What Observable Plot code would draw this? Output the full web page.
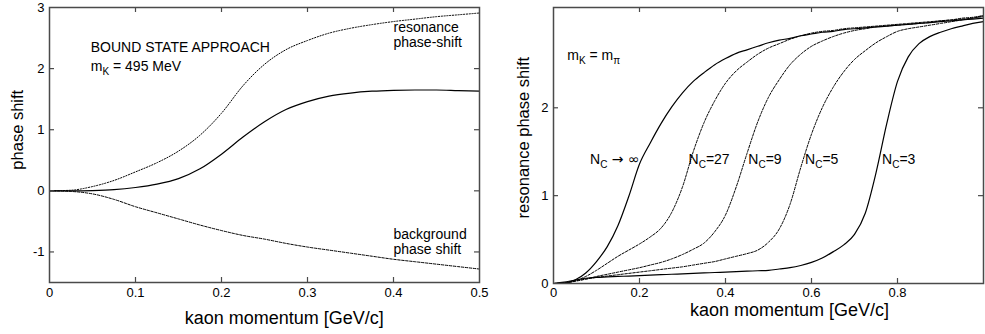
<!DOCTYPE html>
<html><head><meta charset="utf-8">
<script src="https://cdn.jsdelivr.net/npm/d3@7"></script>
<script src="https://cdn.jsdelivr.net/npm/@observablehq/plot@0.6"></script>
<style>
body{margin:0;background:#fff;}
#wrap{position:relative;width:985px;height:334px;font-family:"Liberation Sans",Arial,Helvetica,sans-serif;}
#left{position:absolute;left:0;top:0;}
#right{position:absolute;left:490px;top:0;}
</style></head><body><div id="wrap"><div id="left"></div><div id="right"></div></div>
<script>
// ---------- Left panel data ----------
const leftX = [0,0.025,0.05,0.075,0.1,0.125,0.15,0.175,0.2,0.225,0.25,0.275,0.3,0.325,0.35,0.375,0.4,0.425,0.45,0.475,0.5];
const resonancePhase = [0,0.01,0.07,0.17,0.31,0.46,0.65,0.91,1.27,1.72,2.07,2.31,2.46,2.58,2.66,2.72,2.77,2.81,2.85,2.88,2.91];
const totalPhase = [0,0,0.005,0.02,0.055,0.11,0.2,0.36,0.6,0.88,1.13,1.33,1.46,1.55,1.6,1.63,1.645,1.65,1.65,1.64,1.63];
const backgroundPhase = [0,-0.01,-0.05,-0.14,-0.26,-0.36,-0.46,-0.56,-0.65,-0.73,-0.79,-0.86,-0.92,-0.97,-1.02,-1.07,-1.12,-1.16,-1.2,-1.24,-1.28];
const leftXTicks = [0.1,0.2,0.3,0.4];
const leftXLabels = [0,0.1,0.2,0.3,0.4,0.5];
const leftYTicks = [-1,0,1,2];
const leftYLabels = [-1,0,1,2,3];
const leftNotes = [
  {x:0.048, y:2.34, text:"BOUND STATE APPROACH"},
  {x:0.048, y:2.03, text:"m_{K} = 495 MeV"},
  {x:0.4, y:2.68, text:"resonance"},
  {x:0.4, y:2.43, text:"phase-shift"},
  {x:0.4, y:-0.72, text:"background"},
  {x:0.4, y:-0.96, text:"phase shift"}
];
const leftAxisTitles = [
  {x:0.273, y:-2.08, text:"kaon momentum [GeV/c]", rotate:0},
  {x:-0.0364, y:1.0, text:"phase shift", rotate:-90}
];

// ---------- Right panel data ----------
const rightX = [0,0.025,0.05,0.075,0.1,0.125,0.15,0.175,0.2,0.225,0.25,0.275,0.3,0.325,0.35,0.375,0.4,0.425,0.45,0.475,0.5,0.525,0.55,0.575,0.6,0.625,0.65,0.675,0.7,0.725,0.75,0.775,0.8,0.825,0.85,0.875,0.9,0.925,0.95,0.975,1];
const ncInf = [0,0.005,0.04,0.12,0.25,0.42,0.66,0.99,1.36,1.6,1.82,2.01,2.17,2.3,2.4,2.49,2.56,2.62,2.66,2.7,2.74,2.77,2.79,2.82,2.84,2.86,2.87,2.89,2.9,2.91,2.92,2.93,2.94,2.95,2.96,2.97,2.98,2.99,3.0,3.01,3.02];
const nc27 = [0,0.005,0.03,0.08,0.15,0.23,0.31,0.38,0.45,0.53,0.63,0.81,1.1,1.5,1.83,2.08,2.28,2.42,2.52,2.61,2.68,2.73,2.78,2.82,2.85,2.87,2.88,2.9,2.91,2.92,2.93,2.94,2.95,2.96,2.97,2.98,2.99,3.0,3.01,3.02,3.04];
const nc9 = [0,0.005,0.025,0.05,0.08,0.105,0.13,0.155,0.18,0.21,0.24,0.28,0.33,0.39,0.46,0.59,0.78,1.1,1.48,1.84,2.12,2.32,2.49,2.61,2.7,2.76,2.81,2.85,2.88,2.9,2.92,2.93,2.94,2.95,2.96,2.97,2.99,3.0,3.02,3.03,3.05];
const nc5 = [0,0.01,0.03,0.05,0.07,0.085,0.1,0.115,0.13,0.145,0.16,0.175,0.19,0.21,0.23,0.25,0.28,0.31,0.34,0.38,0.47,0.62,0.9,1.32,1.7,2.0,2.23,2.41,2.55,2.65,2.74,2.81,2.87,2.9,2.92,2.94,2.96,2.98,3.0,3.02,3.05];
const nc3 = [0,0.015,0.04,0.06,0.07,0.075,0.08,0.085,0.09,0.095,0.1,0.105,0.11,0.115,0.12,0.125,0.13,0.135,0.14,0.145,0.15,0.165,0.18,0.205,0.24,0.29,0.36,0.44,0.56,0.8,1.26,1.82,2.3,2.58,2.73,2.81,2.86,2.9,2.93,2.96,2.98];
const rightXTicks = [0.2,0.4,0.6,0.8];
const rightXLabels = [0,0.2,0.4,0.6,0.8];
const rightYTicks = [1,2];
const rightYLabels = [0,1,2];
const rightNotes = [
  {x:0.032, y:2.6, text:"m_{K} = m_{π}"},
  {x:0.085, y:1.41, text:"N_{C} → ∞"},
  {x:0.314, y:1.41, text:"N_{C}=27"},
  {x:0.453, y:1.41, text:"N_{C}=9"},
  {x:0.585, y:1.41, text:"N_{C}=5"},
  {x:0.764, y:1.41, text:"N_{C}=3"}
];
const rightAxisTitles = [
  {x:0.549, y:-0.3, text:"kaon momentum [GeV/c]", rotate:0},
  {x:-0.07, y:1.66, text:"resonance phase shift", rotate:-90}
];

const FONT = '"Liberation Sans",Arial,Helvetica,sans-serif';
const FRAME = "#4a4a4a";

function subscriptify(svg){
  svg.querySelectorAll("text").forEach(t=>{
    const s = t.textContent;
    if(!s.includes("_{")) return;
    while(t.firstChild) t.removeChild(t.firstChild);
    const re = /_\{([^}]*)\}/g; let last = 0, m, shifted = false;
    const ns = "http://www.w3.org/2000/svg";
    const add = (txt, sub) => {
      const ts = document.createElementNS(ns, "tspan");
      ts.textContent = txt;
      if(sub){ ts.setAttribute("font-size","10"); ts.setAttribute("dy","4"); shifted = true; }
      else if(shifted){ ts.setAttribute("dy","-4"); shifted = false; }
      if(!sub && txt.includes("→")) ts.setAttribute("font-family","DejaVu Sans");
      t.appendChild(ts);
    };
    while((m = re.exec(s))){
      if(m.index > last) add(s.slice(last, m.index), false);
      add(m[1], true);
      last = re.lastIndex;
    }
    if(last < s.length) add(s.slice(last), false);
  });
}

function titleMarks(titles){
  return [
    Plot.text(titles.filter(d=>d.rotate===0),{x:"x",y:"y",text:"text",fontSize:18,fill:"black",clip:false}),
    Plot.text(titles.filter(d=>d.rotate!==0),{x:"x",y:"y",text:"text",rotate:-90,fontSize:16.5,fill:"black",clip:false})
  ];
}

// ---------- Left plot ----------
{
  const W=490,H=334,mt=7,mr=11,mb=52,ml=49;
  const iw=W-ml-mr, ih=H-mt-mb;
  const rows = leftX.map((x,i)=>({x, res:resonancePhase[i], tot:totalPhase[i], bg:backgroundPhase[i]}));
  const p = Plot.plot({
    width:W, height:H, marginTop:mt, marginRight:mr, marginBottom:mb, marginLeft:ml,
    x:{domain:[0,0.5]}, y:{domain:[-1.5,3]},
    style:{fontFamily:FONT, fontSize:"13px", background:"white", color:"black", overflow:"visible"},
    marks:[
      Plot.line(rows,{x:"x",y:"res",stroke:"black",strokeWidth:1,strokeDasharray:"1.2,1.6",curve:"monotone-x"}),
      Plot.line(rows,{x:"x",y:"bg",stroke:"black",strokeWidth:1,strokeDasharray:"2.5,1.5",curve:"monotone-x"}),
      Plot.line(rows,{x:"x",y:"tot",stroke:"black",strokeWidth:1.2,curve:"monotone-x"}),
      Plot.tickX(leftXTicks,{x:d=>d,insetTop:ih-5,stroke:FRAME,strokeWidth:1.2}),
      Plot.tickX(leftXTicks,{x:d=>d,insetBottom:ih-5,stroke:FRAME,strokeWidth:1.2}),
      Plot.tickY(leftYTicks,{y:d=>d,insetRight:iw-5,stroke:FRAME,strokeWidth:1.2}),
      Plot.tickY(leftYTicks,{y:d=>d,insetLeft:iw-5,stroke:FRAME,strokeWidth:1.2}),
      Plot.frame({stroke:FRAME,strokeWidth:1.5}),
      Plot.axisX({ticks:leftXLabels,tickSize:0,tickPadding:5,tickFormat:d=>String(d),label:null,fontSize:13}),
      Plot.axisY({ticks:leftYLabels,tickSize:0,tickPadding:5,tickFormat:d=>String(d),label:null,fontSize:13}),
      Plot.text(leftNotes,{x:"x",y:"y",text:"text",textAnchor:"start",fontSize:14,fill:"black"}),
      ...titleMarks(leftAxisTitles)
    ]
  });
  subscriptify(p);
  document.getElementById("left").appendChild(p);
}

// ---------- Right plot ----------
{
  const W=495,H=334,mt=7,mr=2,mb=51,ml=63;
  const iw=W-ml-mr, ih=H-mt-mb;
  const series = [
    {name:"inf", values:ncInf, dashed:false},
    {name:"27", values:nc27, dashed:true},
    {name:"9", values:nc9, dashed:true},
    {name:"5", values:nc5, dashed:true},
    {name:"3", values:nc3, dashed:false}
  ];
  const rows = series.flatMap(s=>rightX.map((x,i)=>({x, y:s.values[i], name:s.name, dashed:s.dashed})));
  const p = Plot.plot({
    width:W, height:H, marginTop:mt, marginRight:mr, marginBottom:mb, marginLeft:ml,
    x:{domain:[0,1]}, y:{domain:[0,Math.PI]},
    style:{fontFamily:FONT, fontSize:"13px", background:"white", color:"black", overflow:"visible"},
    marks:[
      Plot.line(rows.filter(d=>d.dashed),{x:"x",y:"y",z:"name",stroke:"black",strokeWidth:1,strokeDasharray:"2.5,1.5",curve:"monotone-x"}),
      Plot.line(rows.filter(d=>!d.dashed),{x:"x",y:"y",z:"name",stroke:"black",strokeWidth:1.2,curve:"monotone-x"}),
      Plot.tickX(rightXTicks,{x:d=>d,insetTop:ih-5,stroke:FRAME,strokeWidth:1.2}),
      Plot.tickX(rightXTicks,{x:d=>d,insetBottom:ih-5,stroke:FRAME,strokeWidth:1.2}),
      Plot.tickY(rightYTicks,{y:d=>d,insetRight:iw-5,stroke:FRAME,strokeWidth:1.2}),
      Plot.tickY(rightYTicks,{y:d=>d,insetLeft:iw-5,stroke:FRAME,strokeWidth:1.2}),
      Plot.frame({stroke:FRAME,strokeWidth:1.5}),
      Plot.axisX({ticks:rightXLabels,tickSize:0,tickPadding:4,tickFormat:d=>String(d),label:null,fontSize:13}),
      Plot.axisY({ticks:rightYLabels,tickSize:0,tickPadding:5,tickFormat:d=>String(d),label:null,fontSize:13}),
      Plot.text(rightNotes,{x:"x",y:"y",text:"text",textAnchor:"start",fontSize:14,fill:"black"}),
      ...titleMarks(rightAxisTitles)
    ]
  });
  subscriptify(p);
  document.getElementById("right").appendChild(p);
}
</script></body></html>
